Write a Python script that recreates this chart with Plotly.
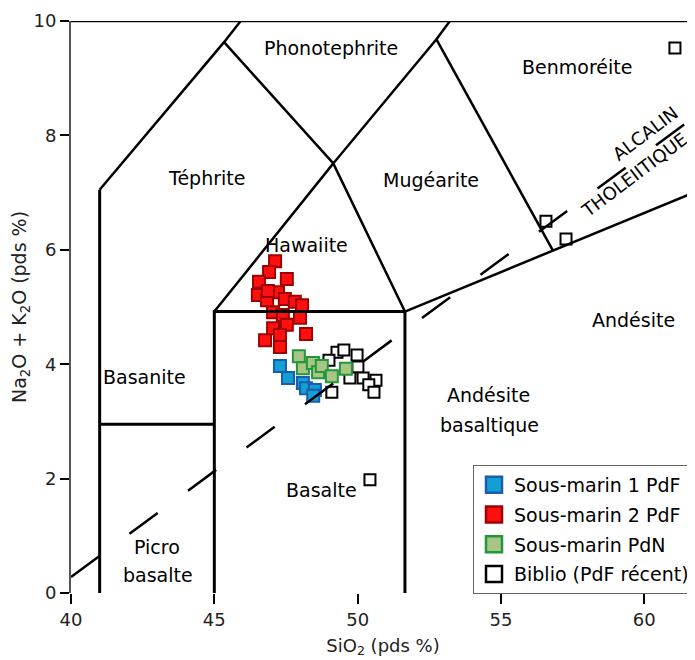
import plotly.graph_objects as go

# ---------------- data ----------------
sm1_x = [47.29, 47.57, 48.09, 48.20, 48.51, 48.45]
sm1_y = [3.97, 3.76, 3.67, 3.58, 3.55, 3.45]

sm2_x = [47.12, 46.91, 47.53, 46.56, 46.52, 47.22, 46.84, 47.46, 47.81, 48.06,
         47.05, 47.39, 47.99, 47.05, 47.53, 46.77, 47.29, 48.20, 47.29, 46.87]
sm2_y = [5.80, 5.61, 5.49, 5.44, 5.21, 5.26, 5.12, 5.14, 5.09, 5.03,
         4.91, 4.86, 4.81, 4.63, 4.69, 4.42, 4.51, 4.53, 4.30, 5.28]

pdn_x = [47.95, 48.09, 48.44, 48.62, 48.75, 49.10, 49.59]
pdn_y = [4.14, 3.93, 4.02, 3.86, 3.97, 3.79, 3.92]

biblio_x = [49.28, 49.52, 49.98, 49.00, 50.01, 49.73, 50.19, 50.64, 50.39, 50.57,
            49.10, 50.43, 56.57, 57.27, 61.07]
biblio_y = [4.21, 4.25, 4.16, 4.07, 3.95, 3.76, 3.76, 3.72, 3.64, 3.51,
            3.51, 1.98, 6.50, 6.19, 9.53]

series_names = ["Sous-marin 1 PdF", "Sous-marin 2 PdF", "Sous-marin PdN", "Biblio (PdF récent)"]
series_fill = ["#12a0d2", "#ff1010", "#a9c585", "white"]
series_edge = ["#1a5cb0", "#a00000", "#23973c", "black"]

# TAS field boundaries (vertices, wt%)
bound_thick = [
    ([41, 41], [0, 7.05]),
    ([41, 45], [2.95, 2.95]),
    ([45, 45, 51.65, 51.65], [0, 4.92, 4.92, 0]),
]
bound_thin = [
    ([41, 45.34, 45.92], [7.05, 9.63, 10.0]),
    ([45, 49.15, 51.65], [4.92, 7.51, 4.92]),
    ([45.34, 49.15, 52.75, 53.22], [9.63, 7.51, 9.68, 10.0]),
    ([52.75, 56.81], [9.68, 5.99]),
    ([51.65, 56.81, 61.77], [4.92, 5.99, 7.01]),
    ([40, 61.77], [10, 10]),
]
alk_x = [40.0, 61.42]
alk_y = [0.28, 8.20]

field_labels = [
    ("Phonotephrite", 49.07, 9.53),
    ("Benmoréite", 57.65, 9.20),
    ("Téphrite", 44.71, 7.26),
    ("Mugéarite", 52.56, 7.22),
    ("Hawaiite", 48.23, 6.08),
    ("Basanite", 42.58, 3.78),
    ("Andésite", 59.64, 4.77),
    ("Andésite", 54.55, 3.46),
    ("basaltique", 54.61, 2.94),
    ("Basalte", 48.75, 1.80),
    ("Picro", 43.00, 0.80),
    ("basalte", 43.03, 0.31),
]
series_labels = [("ALCALIN", 60.02, 8.04), ("THOLEIITIQUE", 59.67, 7.31)]

x_ticks = [40, 45, 50, 55, 60]
y_ticks = [0, 2, 4, 6, 8, 10]

FONT = "DejaVu Sans"

fig = go.Figure()

# markers (drawing order: biblio, blue, red, green on top)
data_order = [(3, biblio_x, biblio_y, 11), (0, sm1_x, sm1_y, 12),
              (1, sm2_x, sm2_y, 12), (2, pdn_x, pdn_y, 12)]
for i, xs, ys, sz in data_order:
    fig.add_trace(go.Scatter(x=xs, y=ys, mode="markers", name=series_names[i],
                             showlegend=False,
                             marker=dict(symbol="square", size=sz, color=series_fill[i],
                                         line=dict(color=series_edge[i], width=2))))

# legend entries (larger swatches)
for i in range(4):
    fig.add_trace(go.Scatter(x=[None], y=[None], mode="markers", name=series_names[i],
                             legendgroup=str(i), showlegend=True,
                             marker=dict(symbol="square", size=16, color=series_fill[i],
                                         line=dict(color=series_edge[i], width=2.5))))

for bx, by in bound_thick:
    fig.add_trace(go.Scatter(x=bx, y=by, mode="lines", showlegend=False, hoverinfo="skip",
                             line=dict(color="black", width=3)))
for bx, by in bound_thin:
    fig.add_trace(go.Scatter(x=bx, y=by, mode="lines", showlegend=False, hoverinfo="skip",
                             line=dict(color="black", width=2.5)))
fig.add_trace(go.Scatter(x=alk_x, y=alk_y, mode="lines", showlegend=False, hoverinfo="skip",
                         line=dict(color="black", width=2.5, dash="35px,37.7px")))

for txt, lx, ly in field_labels:
    fig.add_annotation(x=lx, y=ly, text=txt, showarrow=False, xref="x", yref="y",
                       font=dict(family=FONT, size=19, color="black"))
for txt, lx, ly in series_labels:
    fig.add_annotation(x=lx, y=ly, text=txt, showarrow=False, xref="x", yref="y",
                       textangle=-37, font=dict(family=FONT, size=18, color="black"))

fig.update_layout(
    width=687, height=652,
    margin=dict(l=63, r=0, t=13, b=67, autoexpand=False),
    paper_bgcolor="white", plot_bgcolor="white",
    font=dict(family=FONT, size=18, color="#222"),
    xaxis=dict(range=[40, 61.77], tickvals=x_ticks, showgrid=False, zeroline=False,
               showline=False, ticks="outside", ticklen=10, tickwidth=2, tickcolor="black",
               tickfont=dict(family=FONT, size=18, color="#222"),
               title=dict(text="SiO<sub>2</sub> (pds %)", font=dict(family=FONT, size=18, color="#222"),
                          standoff=10)),
    yaxis=dict(range=[0, 10], tickvals=y_ticks, showgrid=False, zeroline=False,
               showline=True, linecolor="#555", linewidth=2,
               ticks="outside", ticklen=9, tickwidth=2, tickcolor="black",
               tickfont=dict(family=FONT, size=18, color="#222"),
               title=dict(text="Na<sub>2</sub>O + K<sub>2</sub>O (pds %)",
                          font=dict(family=FONT, size=19, color="#222"), standoff=6)),
    legend=dict(x=(473 - 71) / 624, y=(593 - 465) / 572, xanchor="left", yanchor="top",
                bgcolor="white", bordercolor="#666", borderwidth=1,
                font=dict(family=FONT, size=19, color="black"),
                itemwidth=30, tracegroupgap=2, traceorder="grouped"),
    showlegend=True,
)

fig.write_html("out.html")
